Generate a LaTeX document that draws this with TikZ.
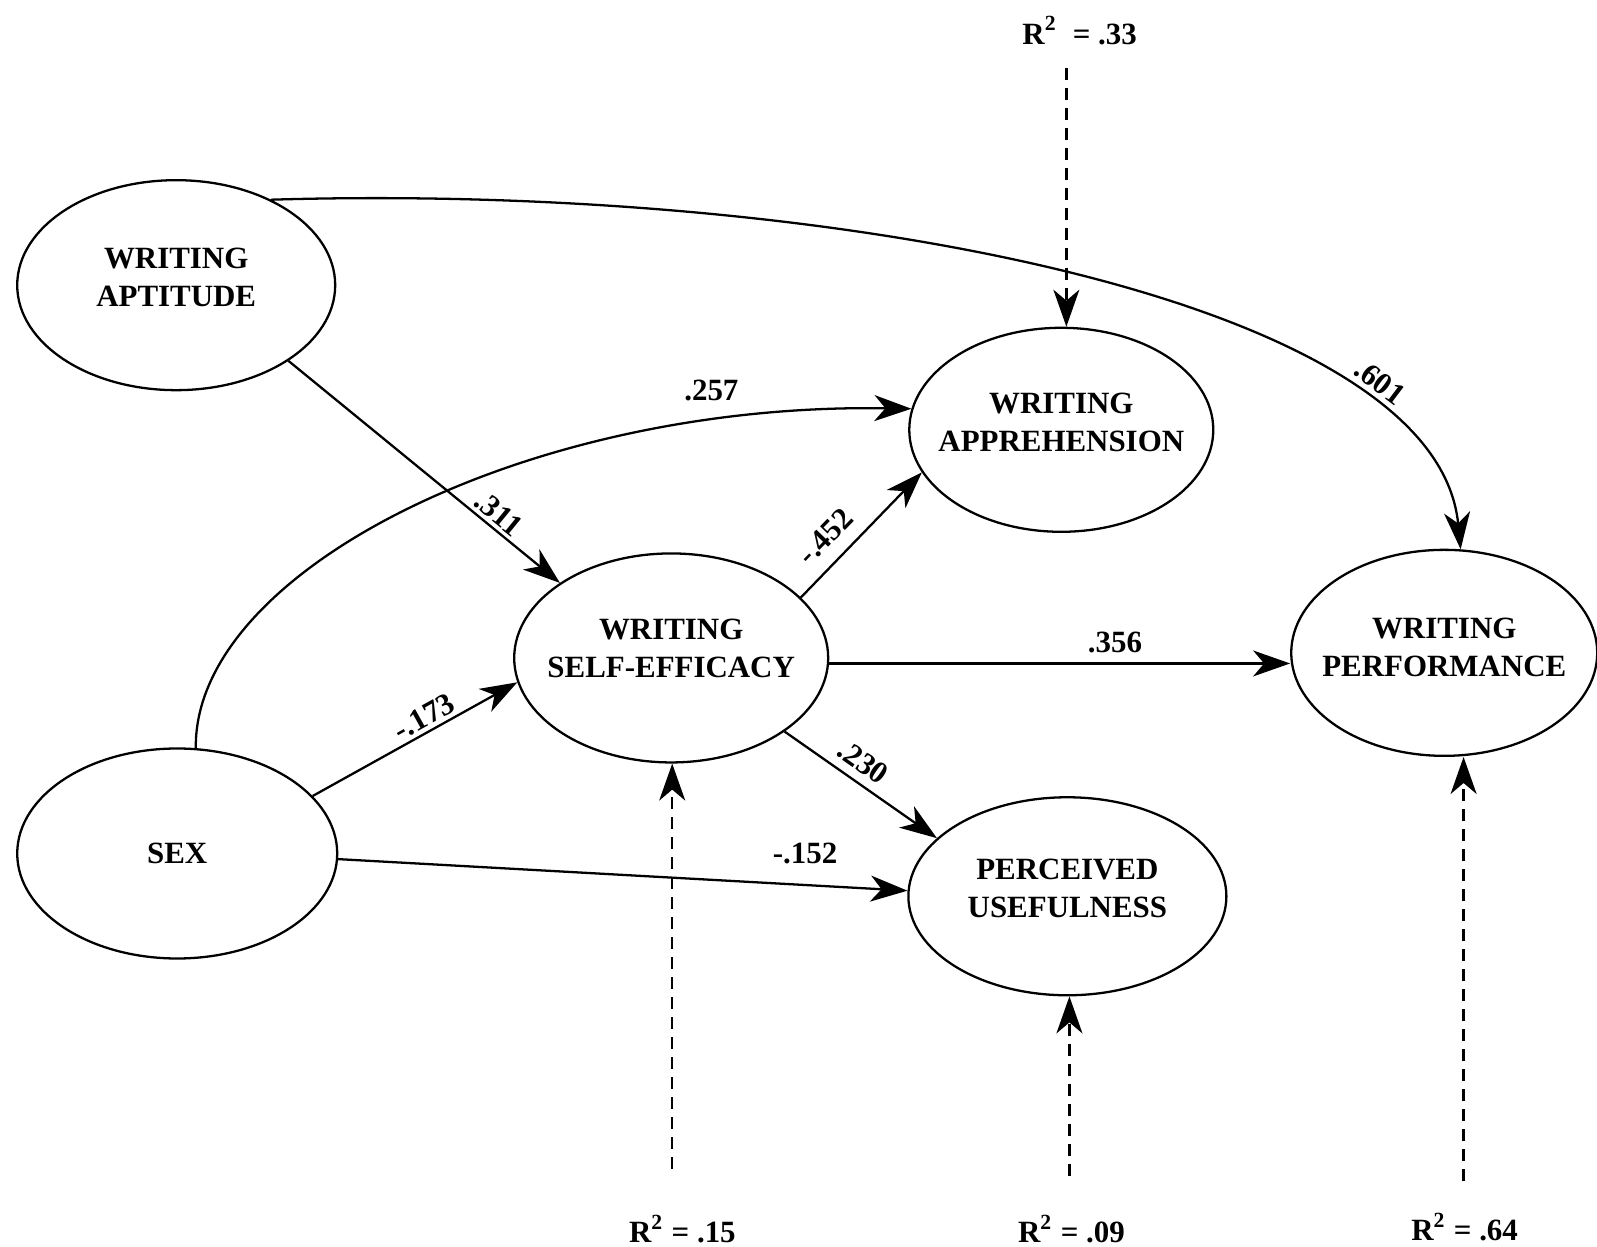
\documentclass[tikz,border=0pt]{standalone}
\usepackage{fontspec}
\setmainfont{Liberation Serif}
\usetikzlibrary{arrows.meta,positioning,shapes.geometric}

\begin{document}
\begin{tikzpicture}[
  x=0.10185mm, y=-0.10185mm,
  var/.style={draw, ellipse, line width=0.65pt, inner sep=0pt},
  vtext/.style={font=\fontsize{8.8}{10.8}\selectfont\bfseries, align=center, inner sep=0pt},
  arr/.style={-{Stealth[length=3.7mm, width=2.6mm, inset=1.1mm]}, line width=0.65pt},
  rsq/.style={arr, dash pattern=on 1.2mm off 0.8mm},
  coef/.style={font=\fontsize{8.8}{10.8}\selectfont\bfseries, inner sep=1pt},
]
  \useasboundingbox (0,0) rectangle (1568,1224);

  % latent variables
  \node[var, minimum width=31.8mm, minimum height=21mm] (apt) at (173,280) {};
  \node[var, minimum width=32mm, minimum height=21mm] (sex) at (174,838) {};
  \node[var, minimum width=31.4mm, minimum height=20.9mm] (self) at (659,646) {};
  \node[var, minimum width=30.4mm, minimum height=20.4mm] (appr) at (1042,422) {};
  \node[var, minimum width=31.8mm, minimum height=19.8mm] (useful) at (1048,880) {};
  \node[var, minimum width=30.6mm, minimum height=20.6mm] (perf) at (1418,641) {};

  \node[vtext] (apt-t) at ([yshift=0.8mm]apt.center) {WRITING\\APTITUDE};
  \node[vtext] (sex-t) at (sex) {SEX};
  \node[vtext] (self-t) at ([yshift=1mm]self.center) {WRITING\\SELF-EFFICACY};
  \node[vtext] (appr-t) at ([yshift=0.7mm]appr.center) {WRITING\\APPREHENSION};
  \node[vtext] (useful-t) at ([yshift=0.8mm]useful.center) {PERCEIVED\\USEFULNESS};
  \node[vtext] (perf-t) at ([yshift=0.5mm]perf.center) {WRITING\\PERFORMANCE};

  % paths
  \draw[arr] (apt.-34) -- node[coef, pos=0.74, sloped, above] (c311) {.311} (self.146);
  \draw[arr] (sex.23) -- node[coef, pos=0.58, sloped, above] (c173) {-.173} (self.189);
  \draw[arr] (sex.80) .. controls (190,560) and (520,395) ..
    node[coef, pos=0.82, above=1.6mm] (c257) {.257} (appr.172);
  \draw[arr] (apt.42) .. controls (800,180) and (1410,290) ..
    node[coef, pos=0.78, sloped, above=1mm] (c601) {.601} (perf.81);
  \draw[arr] (self.25) -- node[coef, pos=0.35, sloped, above=1mm] (c452) {-.452} (appr.197);
  \draw[arr] (self.-2) -- node[coef, pos=0.62, above=0.6mm] (c356) {.356} (self.-2 -| perf.west);
  \draw[arr] (self.-33) -- node[coef, pos=0.44, sloped, above=0.5mm] (c230) {.230} (useful.156);
  \draw[arr] (sex.-2) -- node[coef, pos=0.82, above=1.6mm] (c152) {-.152} (useful.178);

  % residuals
  \node[coef] (r33) at (1060,30) {R\textsuperscript{2}\ \ = .33};
  \node[coef] (r15) at (670,1207) {R\textsuperscript{2} = .15};
  \node[coef] (r09) at (1052,1207) {R\textsuperscript{2} = .09};
  \node[coef] (r64) at (1438,1205) {R\textsuperscript{2} = .64};

  \coordinate (r33-end) at (1047,67);
  \coordinate (r15-end) at (660,1148);
  \coordinate (r09-end) at (1050,1155);
  \coordinate (r64-end) at (1437,1160);
  \draw[rsq] (r33-end) -- (r33-end |- appr.north);
  \draw[rsq] (r15-end) -- (r15-end |- self.south);
  \draw[rsq] (r09-end) -- (r09-end |- useful.south);
  \draw[rsq] (r64-end) -- (r64-end |- perf.south);
\end{tikzpicture}
\end{document}
